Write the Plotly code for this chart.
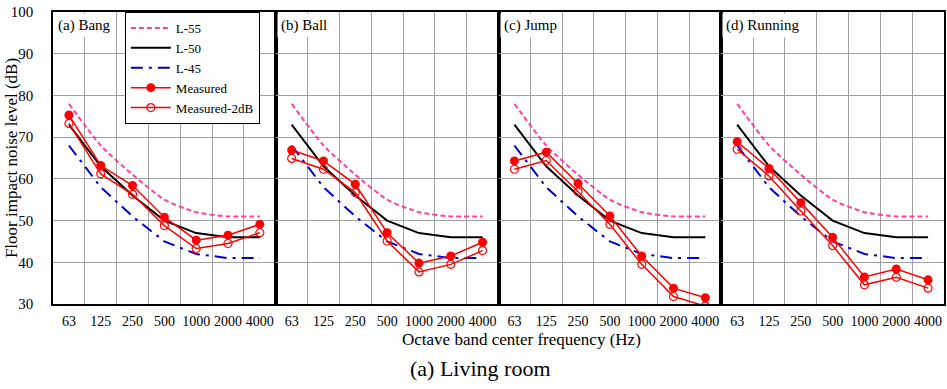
import plotly.graph_objects as go
from plotly.subplots import make_subplots

freqs = ['63', '125', '250', '500', '1000', '2000', '4000']
L55 = [78, 68, 61, 55, 52, 51, 51]
L50 = [73, 63, 56, 50, 47, 46, 46]
L45 = [68, 58, 51, 45, 42, 41, 41]

panel_titles = ['(a) Bang', '(b) Ball', '(c) Jump', '(d) Running']
measured_bang = [75.3, 63.2, 58.4, 50.8, 45.3, 46.5, 49.1]
measured_ball = [66.9, 64.3, 58.7, 47.1, 39.8, 41.5, 44.8]
measured_jump = [64.3, 66.4, 58.9, 51.1, 41.5, 33.8, 31.5]
measured_running = [68.9, 62.5, 54.3, 46.0, 36.5, 38.4, 35.8]
measured2_bang = [73.3, 61.2, 56.3, 48.8, 43.3, 44.5, 47.1]
measured2_ball = [64.9, 62.3, 56.7, 45.1, 37.7, 39.5, 42.8]
measured2_jump = [62.3, 64.4, 56.9, 49.1, 39.5, 31.8, 29.5]
measured2_running = [67.1, 60.7, 52.3, 44.0, 34.6, 36.4, 33.8]

measured_sets = [measured_bang, measured_ball, measured_jump, measured_running]
measured2_sets = [measured2_bang, measured2_ball, measured2_jump, measured2_running]

FONT = 'Liberation Serif, Times New Roman, serif'
PINK = '#ff3fa0'
BLUE = '#0000cc'
RED = '#ff0000'
GRID = '#a0a0a0'

fig = make_subplots(rows=1, cols=4, shared_yaxes=True, horizontal_spacing=0)

for i in range(4):
    show = (i == 0)
    col = i + 1
    fig.add_trace(go.Scatter(x=freqs, y=L55, name='L-55', mode='lines',
                             line=dict(color=PINK, width=2, dash='5px,3px', shape='spline', smoothing=0.6),
                             showlegend=show), row=1, col=col)
    fig.add_trace(go.Scatter(x=freqs, y=L50, name='L-50', mode='lines',
                             line=dict(color='black', width=2),
                             showlegend=show), row=1, col=col)
    fig.add_trace(go.Scatter(x=freqs, y=L45, name='L-45', mode='lines',
                             line=dict(color=BLUE, width=2, dash='12px,6px,3px,6px'),
                             showlegend=show), row=1, col=col)
    fig.add_trace(go.Scatter(x=freqs, y=measured_sets[i], name='Measured', mode='lines+markers',
                             line=dict(color=RED, width=1.5),
                             marker=dict(symbol='circle', size=9, color=RED),
                             showlegend=show), row=1, col=col)
    fig.add_trace(go.Scatter(x=freqs, y=measured2_sets[i], name='Measured-2dB', mode='lines+markers',
                             line=dict(color=RED, width=1.5),
                             marker=dict(symbol='circle-open', size=8, color=RED, line=dict(width=1.2)),
                             showlegend=show), row=1, col=col)

for i in range(4):
    col = i + 1
    fig.update_xaxes(type='category', categoryorder='array', categoryarray=freqs,
                     tickson='boundaries', ticks='', showgrid=True, gridcolor=GRID, gridwidth=1,
                     showline=True, mirror=True, linecolor='black', linewidth=1.5,
                     tickfont=dict(family=FONT, size=14, color='black'),
                     tickangle=0, ticklabelstandoff=3,
                     range=[-0.5, 6.5], row=1, col=col)
    fig.update_yaxes(range=[30, 100], dtick=10, showgrid=True, gridcolor=GRID, gridwidth=1,
                     showline=True, mirror=True, linecolor='black', linewidth=1.5,
                     ticks='', zeroline=False,
                     tickfont=dict(family=FONT, size=15, color='black'),
                     row=1, col=col)
fig.update_yaxes(ticklabelstandoff=15, row=1, col=1)

annotations = []
for i, t in enumerate(panel_titles):
    sfx = '' if i == 0 else str(i + 1)
    annotations.append(dict(text=t, xref=f'x{sfx} domain', yref=f'y{sfx} domain',
                            x=0.005, y=0.955, xanchor='left', yanchor='middle',
                            showarrow=False, bgcolor='white', borderpad=3,
                            font=dict(family=FONT, size=15, color='black')))

annotations.append(dict(text='Floor impact noise level (dB)', xref='paper', yref='paper',
                        x=(11 - 53) / 893, y=0.5, xanchor='center', yanchor='middle', textangle=-90,
                        showarrow=False, font=dict(family=FONT, size=17, color='black')))
annotations.append(dict(text='Octave band center frequency (Hz)', xref='paper', yref='paper',
                        x=(523 - 53) / 893, y=-(339 - 304) / 292, xanchor='center', yanchor='middle',
                        showarrow=False, font=dict(family=FONT, size=17, color='black')))
annotations.append(dict(text='(a) Living room', xref='paper', yref='paper',
                        x=(481 - 53) / 893, y=-(369 - 304) / 292, xanchor='center', yanchor='middle',
                        showarrow=False, font=dict(family=FONT, size=22, color='black')))

fig.update_layout(
    width=947, height=389,
    margin=dict(l=53, r=1, t=12, b=85),
    paper_bgcolor='white', plot_bgcolor='white',
    font=dict(family=FONT, color='black'),
    annotations=annotations,
    legend=dict(x=(125 - 53) / 893, y=1, xanchor='left', yanchor='top',
                bgcolor='white', bordercolor='black', borderwidth=1,
                font=dict(family=FONT, size=13, color='black'),
                tracegroupgap=0, itemwidth=40),
)

fig.write_html('out.html')
